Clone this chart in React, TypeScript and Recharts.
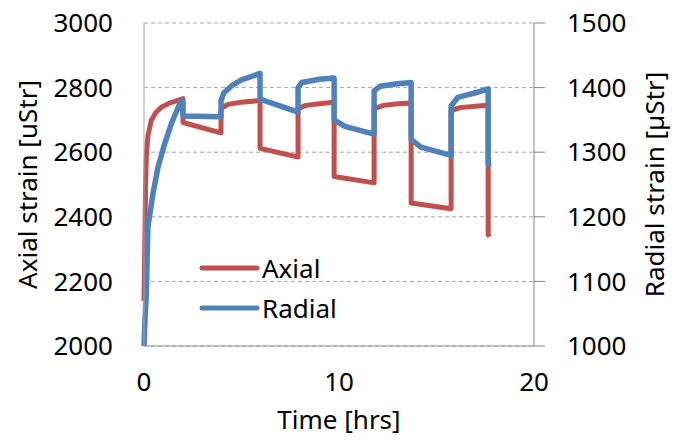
import { LineChart, Line, XAxis, YAxis, CartesianGrid, Legend } from 'recharts';

// time [hrs] and strain [uStr]
const AXIAL_T = [0, 0.05, 0.08, 0.12, 0.2, 0.37, 0.6, 0.89, 1.3, 2.0,
  2.0, 3.95,
  3.95, 4.3, 5.0, 5.95,
  5.95, 7.9,
  7.9, 8.3, 9.0, 9.75,
  9.75, 11.8,
  11.8, 12.3, 13.0, 13.7,
  13.7, 15.75,
  15.75, 16.2, 17.0, 17.65,
  17.65, 17.72];
const AXIAL = [2140, 2350, 2500, 2590, 2650, 2698, 2722, 2739, 2752, 2766,
  2692, 2660,
  2735, 2748, 2755, 2760,
  2612, 2585,
  2735, 2745, 2750, 2755,
  2525, 2505,
  2735, 2745, 2750, 2752,
  2443, 2425,
  2728, 2738, 2742, 2745,
  2345, 2338];

const RADIAL_T = [0, 0.05, 0.12, 0.2, 0.46, 0.72, 1.06, 1.4, 1.83, 1.98,
  2.0, 3.95,
  3.95, 4.1, 4.5, 5.0, 5.95,
  5.95, 7.9,
  7.9, 8.1, 9.0, 9.75,
  9.75, 10.3, 11.8,
  11.8, 12.1, 13.0, 13.7,
  13.7, 14.2, 15.75,
  15.75, 16.1, 17.0, 17.65,
  17.65, 17.72];
const RADIAL = [1000, 1040, 1081, 1184, 1236, 1277, 1313, 1344, 1375, 1380,
  1356, 1355,
  1380, 1392, 1403, 1412, 1422,
  1382, 1362,
  1400, 1408, 1413, 1415,
  1350, 1340, 1328,
  1395, 1402, 1406, 1408,
  1320, 1308, 1295,
  1372, 1385, 1392, 1398,
  1282, 1278];

const LEFT_TICKS = [2000, 2200, 2400, 2600, 2800, 3000];
const RIGHT_TICKS = [1000, 1100, 1200, 1300, 1400, 1500];
const X_TICKS = [0, 10, 20];

const SERIES = [
  { name: 'Axial', color: '#C0504D' },
  { name: 'Radial', color: '#4F81BD' },
];

const FONT = '"Noto Sans", sans-serif';

const axialData = AXIAL_T.map((t, i) => ({ t, v: AXIAL[i] }));
const radialData = RADIAL_T.map((t, i) => ({ t, v: RADIAL[i] }));

function LegendBox() {
  return (
    <div style={{ fontFamily: FONT, fontSize: 26, color: '#000', lineHeight: '40px' }}>
      {SERIES.map(s => (
        <div key={s.name} style={{ display: 'flex', alignItems: 'center' }}>
          <svg width={61} height={10}>
            <line x1={3} y1={5} x2={58} y2={5} stroke={s.color} strokeWidth={5} strokeLinecap="round" />
          </svg>
          <span style={{ marginLeft: 2 }}>{s.name}</span>
        </div>
      ))}
    </div>
  );
}

export default function App() {
  const tick = { fill: '#000', fontSize: 26 };
  return (
    <div style={{ position: 'absolute', left: 0, top: 0 }}>
      <LineChart width={673} height={440} margin={{ top: 23, right: 0, bottom: 0, left: 0 }}
        style={{ fontFamily: FONT }}>
        <CartesianGrid yAxisId="left" vertical={false} stroke="#A6A6A6" strokeDasharray="4 3" />
        <XAxis type="number" dataKey="t" domain={[0, 20]} ticks={X_TICKS} height={94}
          axisLine={{ stroke: '#909090' }} tickLine={false} tickSize={6} tickMargin={21} tick={tick}
          label={{ value: 'Time [hrs]', position: 'insideBottom', offset: 11, fill: '#000', fontSize: 26 }} />
        <YAxis yAxisId="left" domain={[2000, 3000]} ticks={LEFT_TICKS} width={144}
          axisLine={{ stroke: '#A6A6A6' }} tickLine={false} tickSize={6} tickMargin={25} tick={tick}
          label={{ value: 'Axial strain [uStr]', angle: -90, position: 'insideLeft', offset: 28,
            fill: '#000', fontSize: 26, style: { textAnchor: 'middle' } }} />
        <YAxis yAxisId="right" orientation="right" domain={[1000, 1500]} ticks={RIGHT_TICKS} width={139}
          axisLine={{ stroke: '#868686' }} tickLine={{ stroke: '#868686' }} tickSize={11} tickMargin={22} tick={tick}
          label={{ value: 'Radial strain [µStr]', angle: -90, position: 'insideRight', offset: 18,
            fill: '#000', fontSize: 26, style: { textAnchor: 'middle' } }} />
        <Legend layout="vertical" align="center" verticalAlign="middle" content={() => <LegendBox />}
          wrapperStyle={{ left: 199, top: 248, width: 'auto', height: 'auto' }} />
        <Line yAxisId="left" data={axialData} dataKey="v" name="Axial" type="linear"
          stroke={SERIES[0].color} strokeWidth={5} strokeLinejoin="round" dot={false} isAnimationActive={false} />
        <Line yAxisId="right" data={radialData} dataKey="v" name="Radial" type="linear"
          stroke={SERIES[1].color} strokeWidth={5.5} strokeLinejoin="round" dot={false} isAnimationActive={false} />
      </LineChart>
    </div>
  );
}
